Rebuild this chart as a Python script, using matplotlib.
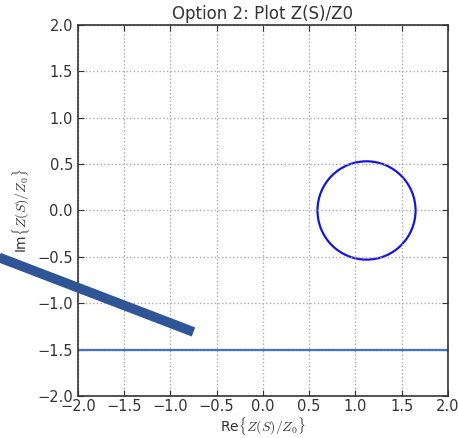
import matplotlib
matplotlib.use("Agg")
from matplotlib import pyplot as plt
from matplotlib.patches import Circle

# plotted locus of Z(S)/Z0 (a circle) and the marker line
circle_center = (1.12, 0.0)
circle_radius = 0.53
hline_y = -1.5
# thick annotation stroke, data coords (runs past the left edge)
stroke_x = [-3.0, -0.75]
stroke_y = [-0.45, -1.31]

ticks = [-2.0, -1.5, -1.0, -0.5, 0.0, 0.5, 1.0, 1.5, 2.0]

plt.rcParams['mathtext.fontset'] = 'cm'

fig = plt.figure(figsize=(4.58, 4.38), dpi=100)
ax = fig.add_axes([0.170, 0.096, 0.808, 0.847])

c = Circle(circle_center, circle_radius, fill=False, edgecolor='#1515e0', linewidth=1.6)
ax.add_patch(c)
ax.axhline(hline_y, color='#4472c4', linewidth=1.6)
ax.plot(stroke_x, stroke_y, color='#2f5597', linewidth=7, solid_capstyle='butt', clip_on=False, zorder=5)

ax.set_xlim(-2, 2)
ax.set_ylim(-2, 2)
ax.set_xticks(ticks)
ax.set_yticks(ticks)
ax.tick_params(direction='in', top=True, right=True, labelsize=10.5, length=4, colors='#333333')
ax.tick_params(axis='x', pad=2)
ax.grid(True, color='#aaaaaa', linestyle=':', linewidth=1)
for s in ax.spines.values():
    s.set_linewidth(1.2)
    s.set_color('#333333')

ax.set_title('Option 2: Plot Z(S)/Z0', fontsize=12, color='#333333', pad=4)
ax.set_xlabel(r'Re$\{Z(S)/Z_0\}$', fontsize=10, color='#333333', labelpad=1)
ax.set_ylabel(r'Im$\{Z(S)/Z_0\}$', fontsize=10, color='#333333')

fig.savefig('out.png', dpi=100)
